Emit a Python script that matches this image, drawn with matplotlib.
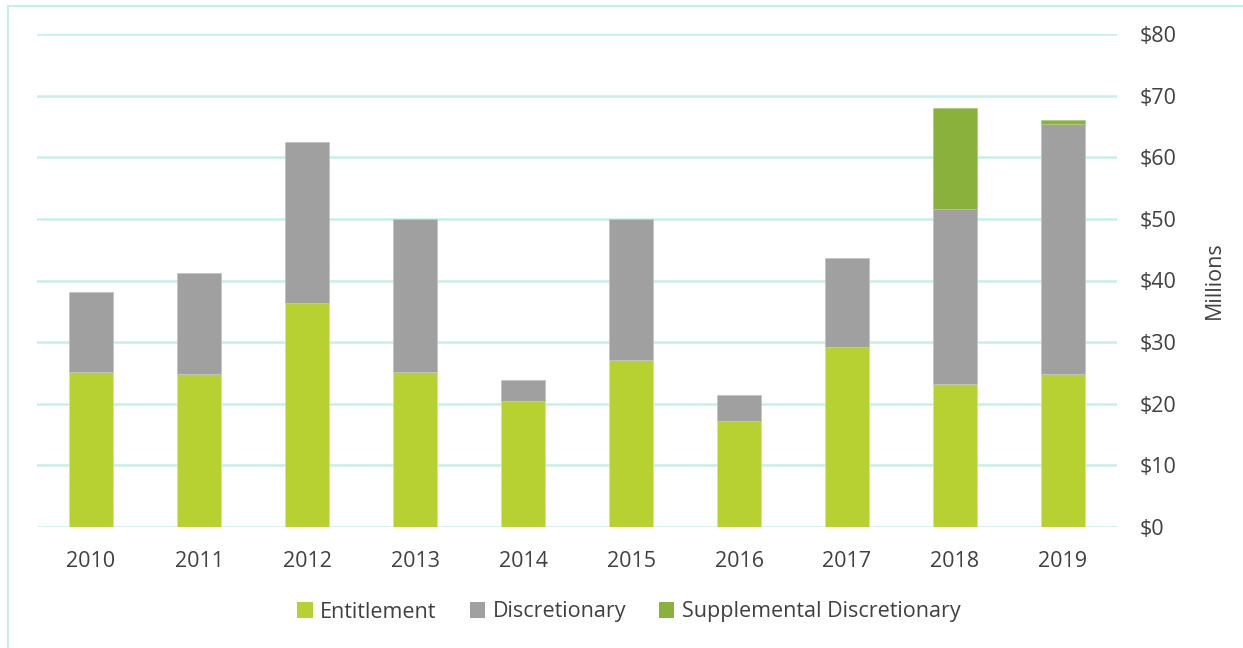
import matplotlib
matplotlib.use("Agg")
import matplotlib.pyplot as plt
from matplotlib.patches import Rectangle
import numpy as np

years = ["2010", "2011", "2012", "2013", "2014", "2015", "2016", "2017", "2018", "2019"]
entitlement = [25.1, 24.8, 36.3, 25.2, 20.4, 27.1, 17.2, 29.2, 23.2, 24.8]
discretionary = [13.0, 16.4, 26.2, 24.8, 3.5, 22.9, 4.2, 14.5, 28.4, 40.6]
supplemental = [0.0, 0.0, 0.0, 0.0, 0.0, 0.0, 0.0, 0.0, 16.4, 0.6]
y_ticks = [0, 10, 20, 30, 40, 50, 60, 70, 80]

c_ent = "#B8D132"
c_disc = "#A0A0A0"
c_supp = "#8BB13D"
c_grid = "#C6F0E6"
c_text = "#404040"

plt.rcParams["font.family"] = ["Open Sans", "DejaVu Sans"]
fs = 15.5

fig = plt.figure(figsize=(12.43, 6.48), dpi=100)
ax = fig.add_axes([37 / 1243, 121 / 648, 1080 / 1243, 493 / 648])

# outer frame of the chart area
fig.patches.append(Rectangle((8 / 1243, -0.1), 1.2, 1.1 - 6 / 648,
                             transform=fig.transFigure, fill=False,
                             edgecolor=c_grid, linewidth=1.6, zorder=0))

x = np.arange(len(years))
w = 0.41
ent = np.array(entitlement)
disc = np.array(discretionary)
supp = np.array(supplemental)


def edge_widths(vals):
    return [0.6 if v > 0 else 0 for v in vals]


ax.bar(x, ent, w, color=c_ent, edgecolor="#D8E88A", linewidth=edge_widths(ent),
       label="Entitlement", zorder=3)
ax.bar(x, disc, w, bottom=ent, color=c_disc, edgecolor="#C4C4C4", linewidth=edge_widths(disc),
       label="Discretionary", zorder=3)
ax.bar(x, supp, w, bottom=ent + disc, color=c_supp, edgecolor="#B0CC80", linewidth=edge_widths(supp),
       label="Supplemental Discretionary", zorder=3)

ax.set_xlim(-0.5, len(years) - 0.5)
ax.set_ylim(0, 80)
ax.set_xticks(x)
ax.set_xticklabels(years)
ax.set_yticks(y_ticks)
ax.set_yticklabels([f"${v}" for v in y_ticks])
ax.yaxis.tick_right()
ax.yaxis.set_label_position("right")
ax.tick_params(axis="both", length=0, labelsize=fs, colors=c_text)
ax.tick_params(axis="y", pad=16)
ax.tick_params(axis="x", pad=17)
ax.set_ylabel("Millions", fontsize=fs, color=c_text, labelpad=20)

ax.grid(axis="y", color=c_grid, linewidth=1.8, zorder=0)
ax.set_axisbelow(True)
for s in ax.spines.values():
    s.set_visible(False)

leg = fig.legend(loc="center", bbox_to_anchor=(629 / 1243, 1 - 612 / 648), ncol=3,
                 frameon=False, fontsize=fs, handlelength=0.7, handleheight=0.7,
                 handletextpad=0.35, columnspacing=1.55)
for t in leg.get_texts():
    t.set_color(c_text)
for h in leg.legend_handles:
    h.set_linewidth(0)

fig.savefig("out.png", dpi=100)
